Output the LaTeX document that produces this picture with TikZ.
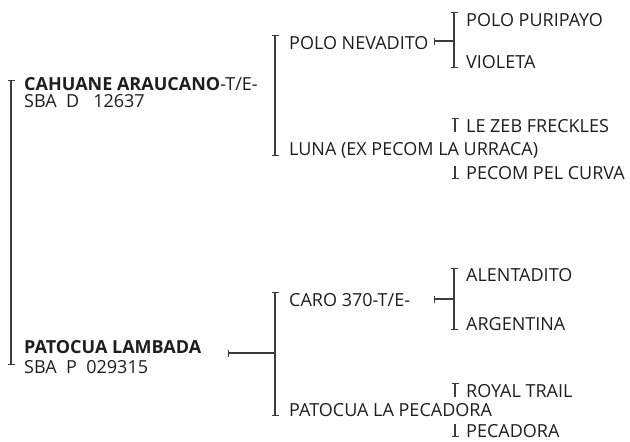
\documentclass[tikz,border=0pt]{standalone}
\usepackage{fontspec}
\setmainfont{Open Sans}
\usetikzlibrary{arrows.meta}
\definecolor{txt}{HTML}{1E1E1E}
\definecolor{ln}{HTML}{3C3C3C}
\tikzset{
  lbl/.style={anchor=base west, inner sep=0pt, text=txt, font=\fontsize{18}{18}\selectfont},
  brk/.style={draw=ln, line width=1.2pt, {Bar[width=7pt,line width=1.2pt]}-{Bar[width=7pt,line width=1.2pt]}},
  lnk/.style={draw=ln, line width=1.2pt, {Bar[width=7pt,line width=1.2pt]}-},
  tickT/.style={draw=ln, line width=1.2pt, {Bar[width=7pt,line width=1.2pt]}-},
}
\begin{document}
\begin{tikzpicture}[x=1pt,y=-1pt]
\useasboundingbox (0,0) rectangle (630,442);
% level 1
\node[lbl] (cah) at (24,90) {\textbf{CAHUANE ARAUCANO}-T/E-};
\node[lbl] (cahr) at (24,107) {SBA\ \ D\ \ \ 12637};
\node[lbl] (pat) at (24,353) {\textbf{PATOCUA LAMBADA}};
\node[lbl] (patr) at (24,373) {SBA\ \ P\ \ 029315};
% level 2
\node[lbl] (pn) at (289,49) {POLO NEVADITO};
\node[lbl] (lu) at (289,155) {LUNA (EX PECOM LA URRACA)};
\node[lbl] (caro) at (289,306) {CARO 370-T/E-};
\node[lbl] (plp) at (289,416) {PATOCUA LA PECADORA};
% level 3
\node[lbl] (pp) at (466,26) {POLO PURIPAYO};
\node[lbl] (vi) at (466,68) {VIOLETA};
\node[lbl] (lz) at (466,132) {LE ZEB FRECKLES};
\node[lbl] (pc) at (466,179) {PECOM PEL CURVA};
\node[lbl] (al) at (466,281) {ALENTADITO};
\node[lbl] (ar) at (466,330) {ARGENTINA};
\node[lbl] (rt) at (466,397) {ROYAL TRAIL};
\node[lbl] (pe) at (466,437) {PECADORA};
% bracket coordinates
\coordinate (b1t) at (11,80);
\coordinate (b1b) at (11,365);
\coordinate (b2t) at (275,35);
\coordinate (b2b) at (275,156);
\coordinate (b3t) at (275,292);
\coordinate (b3b) at (275,416);
\coordinate (b4t) at (454,12);
\coordinate (b4b) at (454,68);
\coordinate (b5t) at (454,268);
\coordinate (b5b) at (454,330);
\coordinate (pnl) at (434,41);
\coordinate (pnr) at (454,41);
\coordinate (crl) at (434,299);
\coordinate (crr) at (454,299);
\coordinate (patl) at (228,353);
\coordinate (patr2) at (275,353);
\coordinate (lzt) at (455,118);
\coordinate (lzb) at (455,132);
\coordinate (pct) at (455,179);
\coordinate (pcb) at (455,166);
\coordinate (rtt) at (455,383);
\coordinate (rtb) at (455,397);
\coordinate (pet) at (455,437);
\coordinate (peb) at (455,424);
% draw
\draw[brk] (b1t) -- (b1b);
\draw[brk] (b2t) -- (b2b);
\draw[brk] (b3t) -- (b3b);
\draw[brk] (b4t) -- (b4b);
\draw[brk] (b5t) -- (b5b);
\draw[lnk] (pnl) -- (pnr);
\draw[lnk] (crl) -- (crr);
\draw[lnk] (patl) -- (patr2);
\draw[tickT] (lzt) -- (lzb);
\draw[tickT] (pct) -- (pcb);
\draw[tickT] (rtt) -- (rtb);
\draw[tickT] (pet) -- (peb);
\end{tikzpicture}
\end{document}
